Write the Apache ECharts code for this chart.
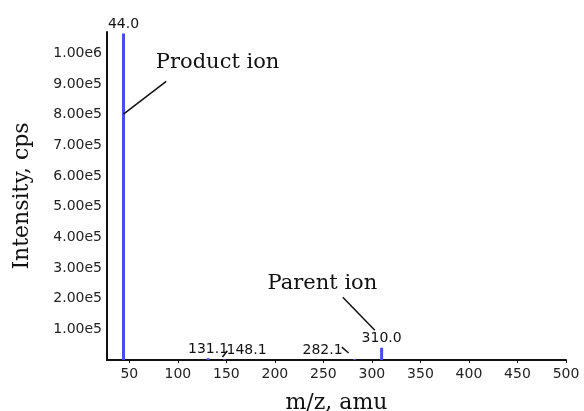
<!DOCTYPE html>
<html>
<head>
<meta charset="utf-8">
<script src="https://cdn.jsdelivr.net/npm/echarts@6/dist/echarts.min.js"></script>
<style>
html,body{margin:0;padding:0;background:#fff;}
#main{width:584px;height:411px;}
</style>
</head>
<body>
<div id="main"></div>
<script>
// peaks: m/z and intensity (cps)
var mz = [44.0, 131.1, 148.1, 282.1, 310.0];
var intensity = [1065000, 6000, 2500, 3000, 40000];
var peakNames = ['44.0', '131.1', '148.1', '282.1', '310.0'];
var xTicks = [50, 100, 150, 200, 250, 300, 350, 400, 450, 500];

var chart = echarts.init(document.getElementById('main'));

var serif = '"DejaVu Serif", "Liberation Serif", serif';
var sans = '"DejaVu Sans", Arial, sans-serif';

// label offsets for the small peaks (leader lines)
var labelOffsets = {
	'148.1': [22, 0],
	'282.1': [-32, 0]
};

var peakData = mz.map(function(x, i) {
	var name = peakNames[i];
	return {
		value: [x, intensity[i]],
		name: name,
		label: { offset: labelOffsets[name] || [0, 0] }
	};
});

var option = {
	animation: false,
	grid: {
		left: 107,
		right: 18,
		top: 32,
		bottom: 51,
		outerBoundsMode: 'none'
	},
	xAxis: {
		type: 'value',
		min: 27,
		max: 500,
		name: 'm/z, amu',
		nameLocation: 'middle',
		nameGap: 32,
		nameTextStyle: { fontFamily: serif, fontSize: 22, color: '#111' },
		axisLine: { lineStyle: { color: '#111', width: 2 } },
		axisTick: { show: true, length: 3, customValues: xTicks, lineStyle: { color: '#111' } },
		axisLabel: { customValues: xTicks, fontFamily: sans, fontSize: 14, color: '#222', margin: 7, letterSpacing: -0.5 },
		splitLine: { show: false }
	},
	yAxis: {
		type: 'value',
		min: 0,
		max: 1070000,
		interval: 100000,
		name: 'Intensity, cps',
		nameLocation: 'middle',
		nameGap: 74,
		nameTextStyle: { fontFamily: serif, fontSize: 22, color: '#111' },
		axisLine: { show: true, lineStyle: { color: '#111', width: 2 } },
		axisTick: { show: false },
		axisLabel: {
			showMaxLabel: false,
			fontFamily: sans, fontSize: 14, color: '#222', margin: 5, letterSpacing: -0.8,
			formatter: function(v) {
				if (v === 0) return '';
				return v.toExponential(2).replace('e+', 'e');
			}
		},
		splitLine: { show: false }
	},
	series: [{
		type: 'bar',
		barWidth: 3,
		itemStyle: { color: '#4b4bf2' },
		label: {
			show: true,
			position: 'top',
			distance: 2,
			fontFamily: sans,
			fontSize: 14,
			letterSpacing: -0.8,
			color: '#111',
			formatter: function(p) { return p.name; }
		},
		data: peakData,
		markLine: {
			silent: true,
			symbol: 'none',
			label: { show: false },
			lineStyle: { color: '#111', width: 1.5, type: 'solid' },
			data: [
				[{ coord: [44, 802000] }, { coord: [88, 909000] }],
				[{ coord: [270, 205000] }, { coord: [303, 97000] }],
				[{ coord: [146, 10000] }, { coord: [151, 30000] }],
				[{ coord: [269, 42000] }, { coord: [276, 23000] }]
			]
		},
		markPoint: {
			symbol: 'circle',
			symbolSize: 0,
			silent: true,
			label: {
				show: true,
				position: 'inside',
				fontFamily: serif,
				fontSize: 21,
				color: '#111'
			},
			data: [
				{ coord: [141, 970000], label: { formatter: 'Product ion' } },
				{ coord: [249, 250000], label: { formatter: 'Parent ion' } }
			]
		}
	}]
};

chart.setOption(option);
</script>
</body>
</html>
